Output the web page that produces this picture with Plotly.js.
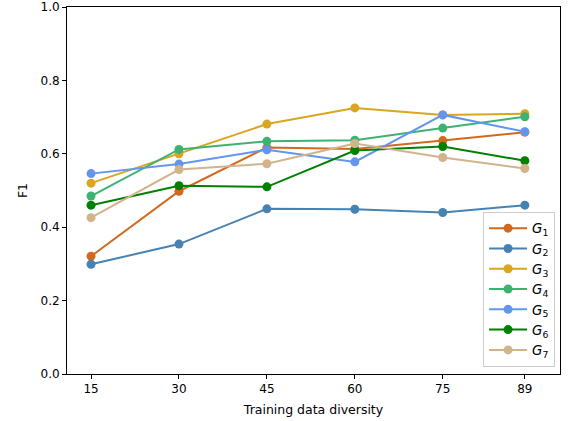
<!DOCTYPE html>
<html>
<head>
<meta charset="utf-8">
<script src="https://cdn.plot.ly/plotly-3.0.1.min.js"></script>
<style>html,body{margin:0;padding:0;background:#fff;}#chart{width:568px;height:421px;}</style>
</head>
<body>
<div id="chart"></div>
<script>
const diversity = [15, 30, 45, 60, 75, 89];
const seriesNames = ["G1", "G2", "G3", "G4", "G5", "G6", "G7"];
const g1 = [0.321, 0.498, 0.617, 0.613, 0.636, 0.659];
const g2 = [0.299, 0.354, 0.450, 0.449, 0.440, 0.460];
const g3 = [0.520, 0.600, 0.681, 0.725, 0.706, 0.709];
const g4 = [0.485, 0.612, 0.634, 0.637, 0.670, 0.701];
const g5 = [0.546, 0.572, 0.611, 0.578, 0.706, 0.660];
const g6 = [0.460, 0.513, 0.510, 0.609, 0.620, 0.581];
const g7 = [0.426, 0.557, 0.573, 0.628, 0.590, 0.560];
const colors = ["#D2691E", "#4682B4", "#DAA520", "#3CB371", "#6495ED", "#008000", "#D2B48C"];
const allValues = [g1, g2, g3, g4, g5, g6, g7];

const traces = allValues.map((vals, i) => ({
  x: diversity,
  y: vals,
  type: "scatter",
  mode: "lines+markers",
  name: "<i>G</i><sub>" + seriesNames[i].slice(1) + "</sub>",
  line: {color: colors[i], width: 2},
  marker: {color: colors[i], size: 9}
}));

const tickFont = {family: "DejaVu Sans, sans-serif", size: 12, color: "#000"};
const titleFont = {family: "DejaVu Sans, sans-serif", size: 12.5, color: "#000"};
const layout = {
  width: 568, height: 421,
  margin: {l: 67, r: 8, t: 7, b: 47},
  paper_bgcolor: "#fff", plot_bgcolor: "#fff",
  font: tickFont,
  showlegend: true,
  legend: {
    x: 0.99, y: 0.019, xanchor: "right", yanchor: "bottom",
    bgcolor: "rgba(255,255,255,0.8)", bordercolor: "#ccc", borderwidth: 1,
    font: {family: "DejaVu Sans, sans-serif", size: 13.3, color: "#000"},
    tracegroupgap: 0, itemwidth: 38
  },
  xaxis: {
    range: [10.9, 95.0],
    tickvals: diversity, ticktext: diversity.map(String),
    tickfont: tickFont,
    ticks: "outside", ticklen: 4, tickwidth: 1, tickcolor: "#000",
    showgrid: false, zeroline: false,
    showline: true, linecolor: "#000", linewidth: 1, mirror: true,
    title: {text: "Training data diversity", font: titleFont, standoff: 9}
  },
  yaxis: {
    range: [0, 1], dtick: 0.2, tickformat: ".1f",
    tickfont: tickFont,
    ticks: "outside", ticklen: 4, tickwidth: 1, tickcolor: "#000",
    showgrid: false, zeroline: false,
    showline: true, linecolor: "#000", linewidth: 1, mirror: true,
    title: {text: "F1", font: titleFont, standoff: 10}
  }
};
Plotly.newPlot("chart", traces, layout, {displayModeBar: false, staticPlot: true});
</script>
</body>
</html>
